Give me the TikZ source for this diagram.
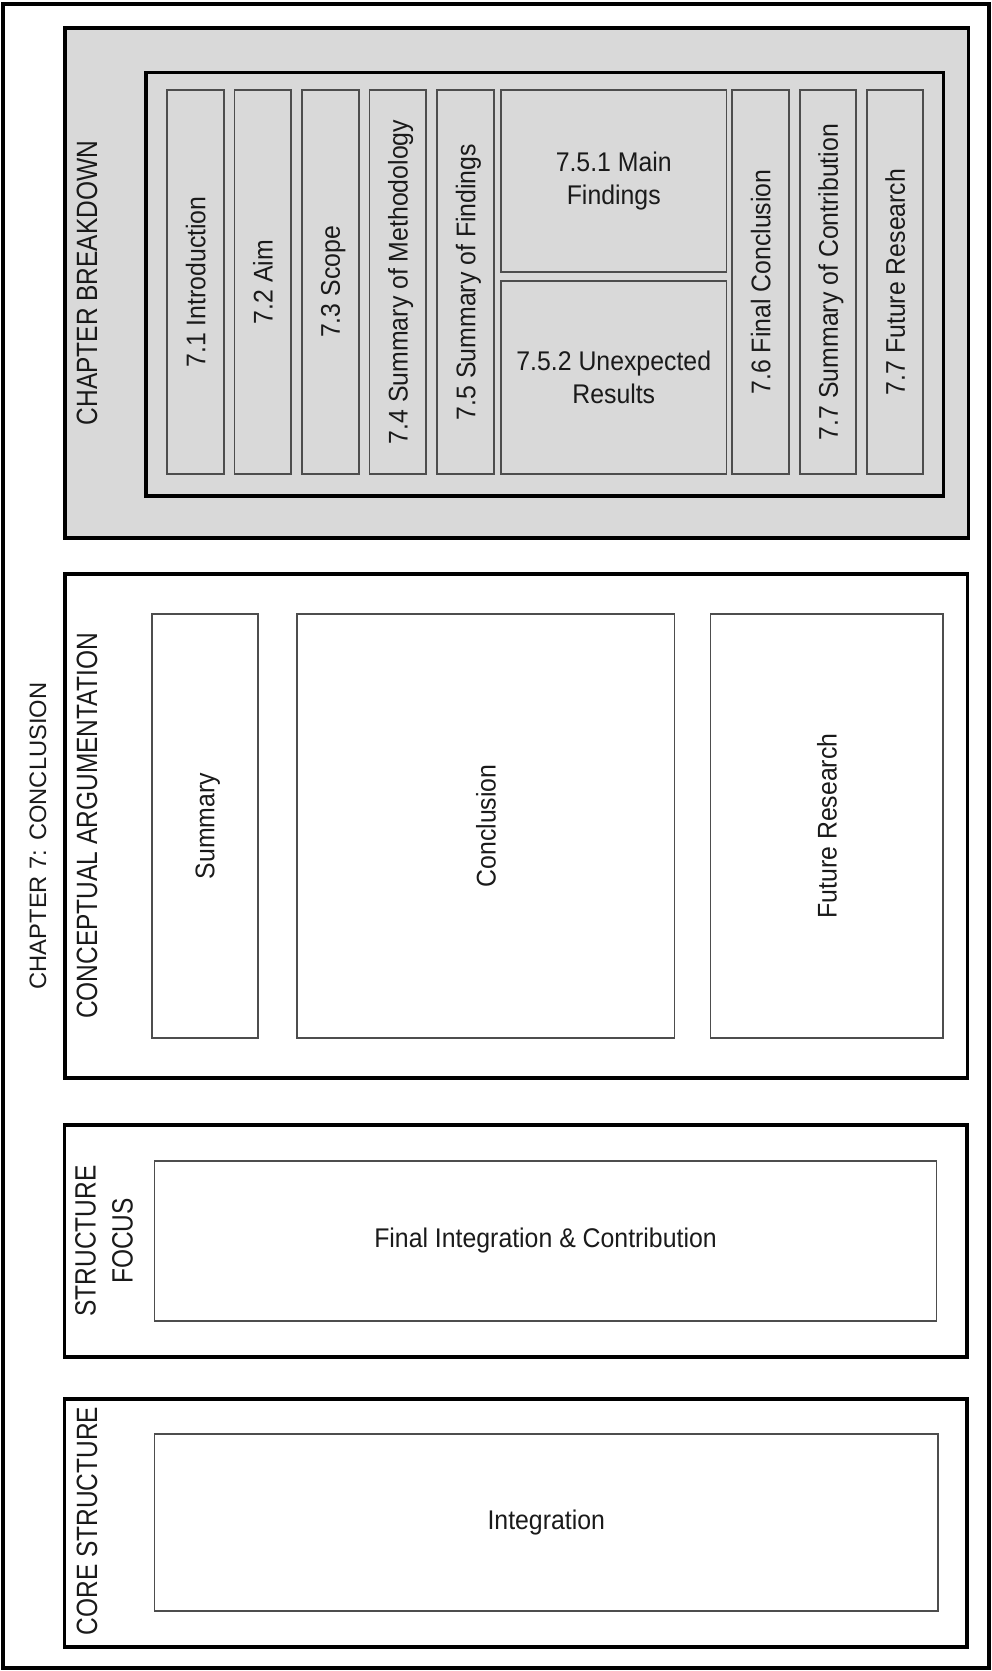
\documentclass[tikz,border=0pt]{standalone}
\usepackage{fontspec}
\setmainfont[FakeStretch=0.92]{Liberation Sans}
\newfontfamily\headfont[FakeStretch=0.835]{Liberation Sans}
\newfontfamily\titlefont[FakeStretch=1.0]{Liberation Sans}
\usetikzlibrary{fit}
\definecolor{panelgray}{HTML}{D9D9D9}
\definecolor{edgegray}{HTML}{4D4D4D}
\definecolor{ink}{HTML}{1A1A1A}
\begin{document}
\begin{tikzpicture}[x=0.75pt,y=-0.75pt,
  frameline/.style={draw=black, line width=3pt, inner sep=0pt},
  panel/.style={draw=black, line width=2.7pt, inner sep=0pt},
  graypanel/.style={panel, fill=panelgray},
  cell/.style={draw=edgegray, line width=1.2pt, inner sep=0pt},
  graycell/.style={cell, fill=panelgray},
  bodytext/.style={font=\fontsize{20.25}{25}\selectfont, text=ink, align=center, inner sep=0pt},
  vbodytext/.style={bodytext, text depth=0pt, rotate=90},
  headtext/.style={font=\headfont\fontsize{22}{27.75}\selectfont, text=ink, align=center, inner sep=0pt, rotate=90},
  titletext/.style={font=\titlefont\fontsize{17.8}{21}\selectfont, text=ink, inner sep=0pt, rotate=90}]
\useasboundingbox (0,0) rectangle (992,1671);

% chapter frame and title
\node[frameline, fit={(3,3.5) (989,1668)}] (chapter) {};
\node[titletext] (chaptertitle) at (38,836) {CHAPTER 7: CONCLUSION};

% ---- chapter breakdown ----
\node[graypanel, fit={(65,28) (968.5,538)}] (breakdown) {};
\node[headtext] (breakdownlabel) at (87,283) {CHAPTER BREAKDOWN};
\node[panel, fit={(146,72.5) (943.5,496)}] (sections) {};

\node[graycell, fit={(167,90) (224,474)}] (s71) {};
\node[graycell, fit={(234.5,90) (291,474)}] (s72) {};
\node[graycell, fit={(302,90) (359,474)}] (s73) {};
\node[graycell, fit={(369.5,90) (426,474)}] (s74) {};
\node[graycell, fit={(437,90) (494,474)}] (s75) {};
\node[graycell, fit={(501,90) (726.5,272)}] (s751) {};
\node[graycell, fit={(501,281) (726.5,474)}] (s752) {};
\node[graycell, fit={(732,90) (789,474)}] (s76) {};
\node[graycell, fit={(800,90) (856,474)}] (s77a) {};
\node[graycell, fit={(867,90) (923,474)}] (s77b) {};

\node[vbodytext] (t71) at (s71.center) {7.1 Introduction};
\node[vbodytext] (t72) at (s72.center) {7.2 Aim};
\node[vbodytext] (t73) at (s73.center) {7.3 Scope};
\node[vbodytext] (t74) at (s74.center) {7.4 Summary of Methodology};
\node[vbodytext] (t75) at (s75.center) {7.5 Summary of Findings};
\node[bodytext] (t751) at (s751.center) {7.5.1 Main\\Findings};
\node[bodytext] (t752) at (s752.center) {7.5.2 Unexpected\\Results};
\node[vbodytext] (t76) at (s76.center) {7.6 Final Conclusion};
\node[vbodytext] (t77a) at (s77a.center) {7.7 Summary of Contribution};
\node[vbodytext] (t77b) at (s77b.center) {7.7 Future Research};

% ---- conceptual argumentation ----
\node[panel, fit={(65,574) (967.5,1078)}] (concept) {};
\node[headtext] (conceptlabel) at (87,826) {CONCEPTUAL ARGUMENTATION};
\node[cell, fit={(152,614) (258,1038)}] (summary) {};
\node[cell, fit={(297,614) (674.5,1038)}] (conclusion) {};
\node[cell, fit={(710.5,614) (943,1038)}] (future) {};
\node[vbodytext] (tsummary) at (summary.center) {Summary};
\node[vbodytext] (tconclusion) at (conclusion.center) {Conclusion};
\node[vbodytext] (tfuture) at (future.center) {Future Research};

% ---- structure focus ----
\node[panel, fit={(64.5,1125) (967,1357)}] (focus) {};
\node[headtext] (focuslabel) at (104,1241) {STRUCTURE\\FOCUS};
\node[cell, fit={(154.5,1161) (936.5,1321)}] (finalbox) {};
\node[bodytext] (tfinal) at (finalbox.center) {Final Integration \& Contribution};

% ---- core structure ----
\node[panel, fit={(64.5,1399) (967,1647)}] (core) {};
\node[headtext] (corelabel) at (87,1521) {CORE STRUCTURE};
\node[cell, fit={(154.5,1434) (938,1611)}] (integrationbox) {};
\node[bodytext] (tintegration) at (integrationbox.center) {Integration};
\end{tikzpicture}
\end{document}
